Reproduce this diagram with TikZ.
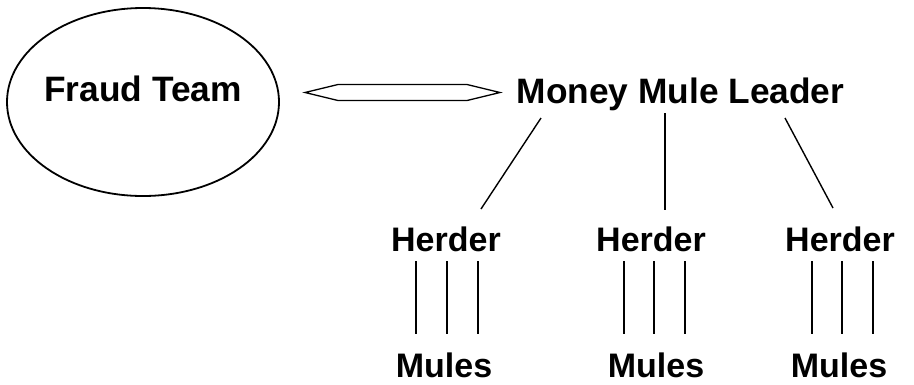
\documentclass[tikz,border=0pt]{standalone}
\usepackage{fontspec}
\setmainfont{Liberation Sans}
\usetikzlibrary{shapes.geometric}
\begin{document}
\begin{tikzpicture}[x=1pt,y=-1pt,
  lbl/.style={font=\fontsize{34}{40}\selectfont\bfseries, inner sep=0pt, anchor=base},
  biglbl/.style={lbl, font=\fontsize{35.3}{42}\selectfont\bfseries},
  conn/.style={line width=1.4pt, black},
  mulelink/.style={line width=1.4pt, black}]
\useasboundingbox (0,0) rectangle (914,384);
% Fraud team ellipse
\node[draw, line width=1.8pt, ellipse, minimum width=272pt, minimum height=188pt, inner sep=0pt] (fte) at (143,102) {};
\node[biglbl] (fraud) at (143,101) {Fraud Team};
% leader
\node[biglbl] (leader) at (680.5,103) {Money Mule Leader};
% herders
\node[lbl] (h1) at (446,251) {Herder};
\node[lbl] (h2) at (651,251) {Herder};
\node[lbl] (h3) at (840,251) {Herder};
% mules
\node[lbl] (m1) at (444,377) {Mules};
\node[lbl] (m2) at (656,377) {Mules};
\node[lbl] (m3) at (839,377) {Mules};
% double arrow (hexagon) between fraud team and leader
\coordinate (al) at (305,92.5);
\coordinate (ar) at (500,92.5);
\draw[line width=1.3pt, line join=miter] (al) -- (338,84.5) -- (467,84.5) -- (ar) -- (467,100.5) -- (338,100.5) -- cycle;
% leader to herders
\coordinate (l1) at (541,118); \coordinate (t1) at (481,209);
\coordinate (l2) at (665,113); \coordinate (t2) at (665,210);
\coordinate (l3) at (785,118); \coordinate (t3) at (833,208);
\draw[conn] (l1) -- (t1);
\draw[conn] (l2) -- (t2);
\draw[conn] (l3) -- (t3);
% herders to mules
\foreach \x in {416,447,478, 624,654,685, 812,842,873}{
  \draw[mulelink] (\x,261) -- (\x,334);
}
\end{tikzpicture}
\end{document}
